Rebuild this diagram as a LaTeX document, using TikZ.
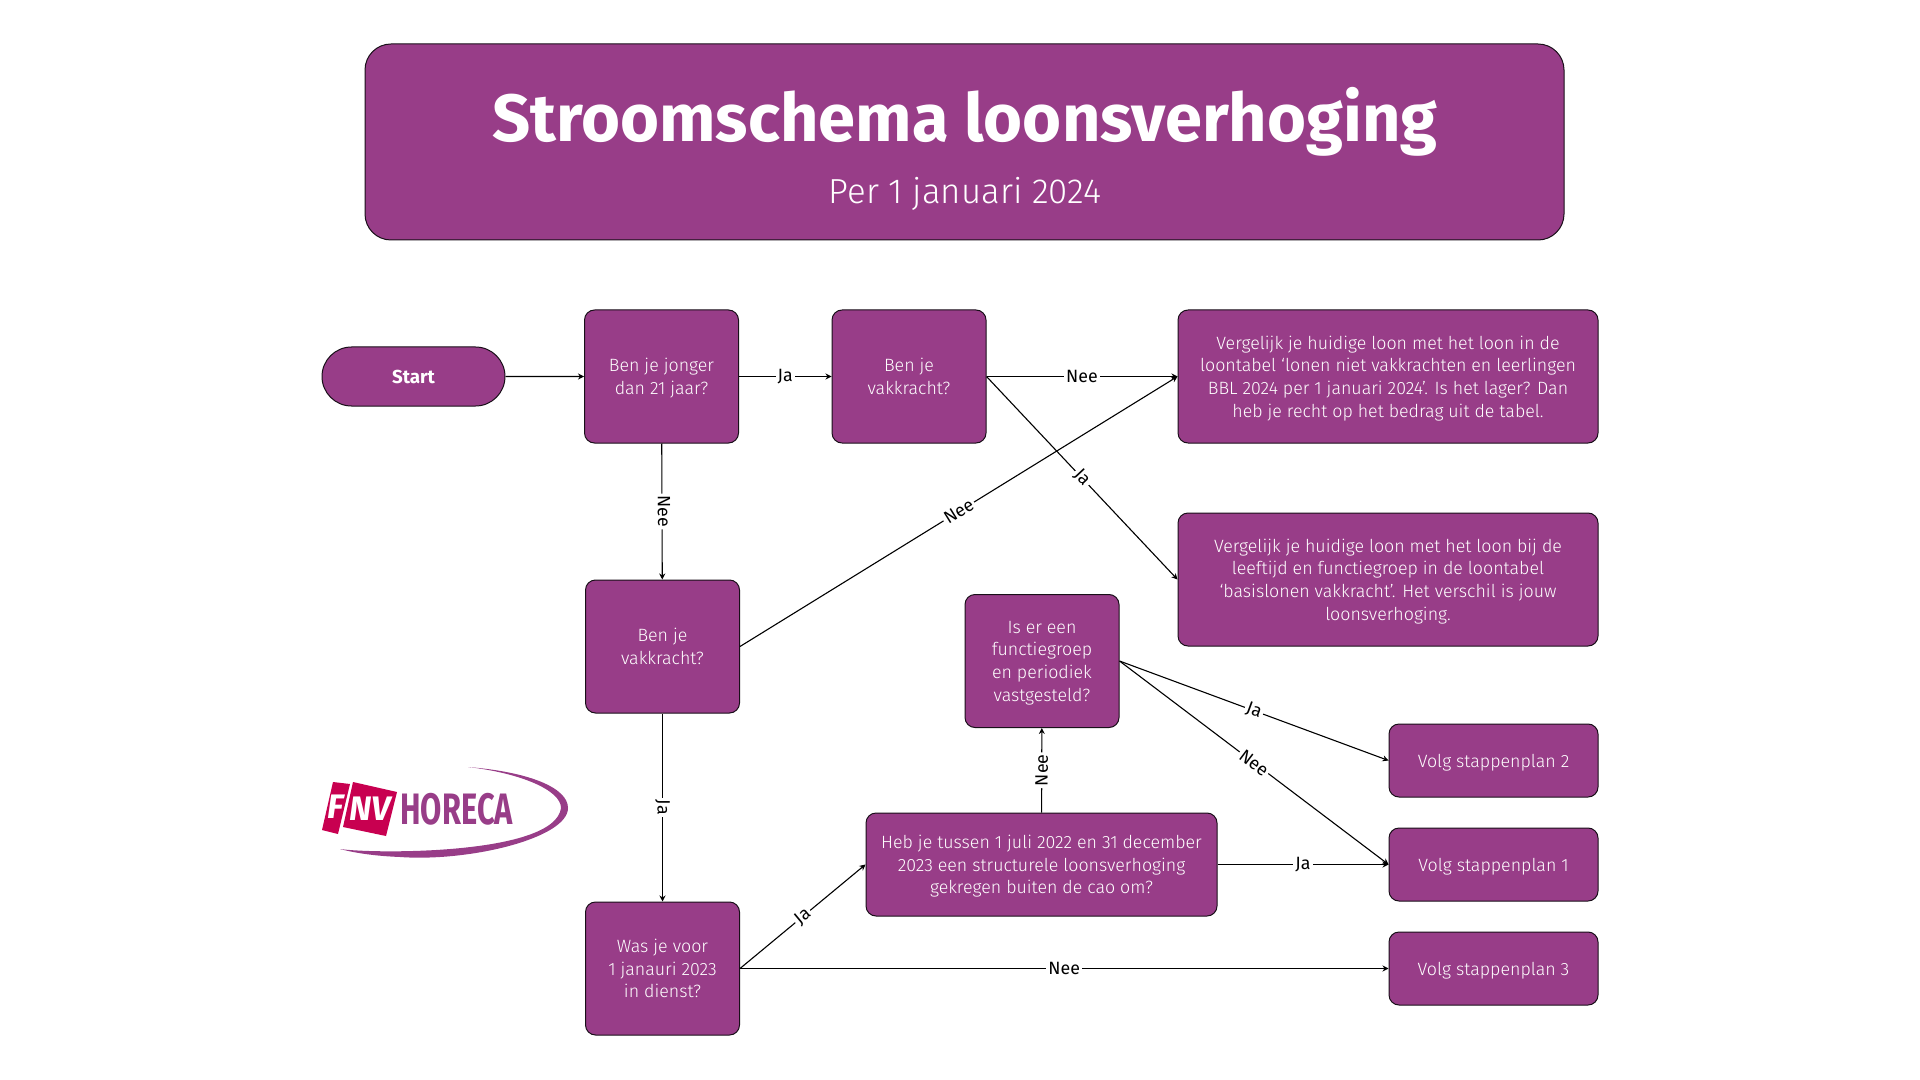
\documentclass[tikz,border=0pt]{standalone}
\usepackage{fontspec}
\usepackage{xcolor}
\usepackage{tikz}
\usetikzlibrary{arrows.meta,positioning,shapes.misc}
\setmainfont{Fira Sans Light}
\newfontfamily\titlefont{Fira Sans}
\newfontfamily\logofont[FakeStretch=0.7]{Fira Sans}
\definecolor{fnvpaars}{RGB}{152,61,136}
\definecolor{fnvrood}{RGB}{200,0,80}
\definecolor{fnvedge}{RGB}{25,15,25}
\tikzset{
  fnvbox/.style={
    draw=fnvedge, line width=0.5pt, fill=fnvpaars, rounded corners=5pt,
    align=center, inner sep=0pt, text depth=0pt, text=white, font=\fontsize{8.9}{11.35}\selectfont
  },
  vraag/.style={fnvbox, minimum width=77pt, minimum height=66.5pt},
  uitkomst/.style={fnvbox, minimum width=210pt, minimum height=66.5pt},
  stap/.style={fnvbox, minimum width=104.5pt, minimum height=36.5pt},
  startbox/.style={fnvbox, sharp corners, rounded rectangle, minimum width=91.5pt, minimum height=29.5pt, font=\fontsize{9.4}{11}\titlefont\bfseries},
  arr/.style={-{Stealth[length=3pt,width=3pt]}, draw=black, line width=0.55pt},
  lbl/.style={fill=white, text=black, inner sep=1pt, font=\fontsize{8.9}{10}\titlefont},
  every picture/.append style={line join=round}
}
\begin{document}
\begin{tikzpicture}[x=0.5pt,y=-0.5pt]
  \useasboundingbox (0,0) rectangle (1920,1080);
  % TITEL
  \node[fnvbox, rounded corners=13pt, minimum width=599.5pt, minimum height=98pt] (titel) at (964.5,142) {};
  \node[text=white, font=\fontsize{33.4}{36}\titlefont\bfseries] (kop) at (965,122) {Stroomschema loonsverhoging};
  \node[text=white, font=\fontsize{17.4}{20}\selectfont] (sub) at (965,194) {Per 1 januari 2024};
  % VRAGEN
  \node[startbox] (start) at (413.5,376.5) {Start};
  \node[vraag] (jong) at (661.5,376.5) {Ben je jonger\\dan 21 jaar?};
  \node[vraag] (vak) at (909,376.5) {Ben je\\vakkracht?};
  \node[vraag] (vakb) at (662.5,646.5) {Ben je\\vakkracht?};
  \node[vraag] (dienst) at (662.5,968.5) {Was je voor\\1 janauri 2023\\in dienst?};
  \node[vraag] (groep) at (1042,661) {Is er een\\functiegroep\\en periodiek\\vastgesteld?};
  \node[fnvbox, minimum width=175.5pt, minimum height=51.5pt] (tussen) at (1041.5,864.5)
    {Heb je tussen 1 juli 2022 en 31 december\\2023 een structurele loonsverhoging\\gekregen buiten de cao om?};
  % UITKOMSTEN
  \node[uitkomst] (tabel) at (1388,376.5)
    {Vergelijk je huidige loon met het loon in de\\loontabel ‘lonen niet vakkrachten en leerlingen\\BBL 2024 per 1 januari 2024’. Is het lager? Dan\\heb je recht op het bedrag uit de tabel.};
  \node[uitkomst] (basis) at (1388,579.5)
    {Vergelijk je huidige loon met het loon bij de\\leeftijd en functiegroep in de loontabel\\‘basislonen vakkracht’. Het verschil is jouw\\loonsverhoging.};
  \node[stap] (plantwee) at (1493.5,760.5) {Volg stappenplan 2};
  \node[stap] (planeen) at (1493.5,864.5) {Volg stappenplan 1};
  \node[stap] (plandrie) at (1493.5,968.5) {Volg stappenplan 3};
  % PIJLEN
  \draw[arr] (start) -- (jong);
  \draw[arr] (jong) -- node[lbl] {Ja} (vak);
  \draw[arr] (vak) -- node[lbl] {Nee} (tabel);
  \draw[arr] (vak.east) -- node[lbl, sloped, pos=0.5] {Ja} (basis.west);
  \draw[arr] (jong) -- node[lbl, sloped, yshift=1pt] {Nee} (vakb);
  \draw[arr] (vakb.east) -- node[lbl, sloped] {Nee} (tabel.west);
  \draw[arr] (vakb) -- node[lbl, rotate=-90] {Ja} (dienst);
  \draw[arr] (dienst.east) -- node[lbl, sloped] {Ja} (tussen.west);
  \draw[arr] (dienst.east) -- node[lbl] {Nee} (plandrie.west);
  \draw[arr] (tussen) -- node[lbl, sloped] {Nee} (groep);
  \draw[arr] (tussen) -- node[lbl] {Ja} (planeen);
  \draw[arr] (groep.east) -- node[lbl, sloped] {Ja} (plantwee.west);
  \draw[arr] (groep.east) -- node[lbl, sloped] {Nee} (planeen.west);
  % LOGO
  \fill[fnvpaars] (468,767) .. controls (530,772) and (568,788) .. (568,808)
    .. controls (568,838) and (470,862) .. (400,857)
    .. controls (375,856) and (355,853) .. (340,849)
    .. controls (375,854) and (555,855) .. (561,808)
    .. controls (561,790) and (520,773) .. (468,767) -- cycle;
  \fill[fnvrood] (333,782) -- (350,784) -- (338,834) -- (322,830) -- cycle;
  \fill[fnvrood] (353,782) -- (397,792) -- (386,836) -- (343,827) -- cycle;
  \node[text=white, font=\fontsize{17}{18}\titlefont\bfseries\itshape] (logof) at (336,807) {F};
  \node[text=white, font=\fontsize{17}{18}\titlefont\bfseries\itshape] (logonv) at (370,809) {NV};
  \node[text=fnvpaars, font=\fontsize{22}{24}\logofont\bfseries, anchor=west, inner sep=0pt] (logotekst) at (400,809) {HORECA};
\end{tikzpicture}
\end{document}
